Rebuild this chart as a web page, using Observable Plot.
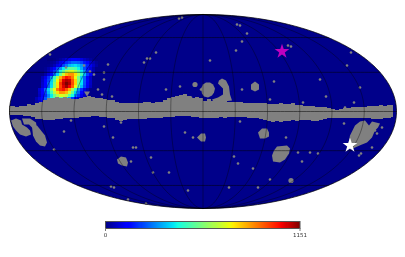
<!DOCTYPE html>
<html>
<head>
<meta charset="utf-8">
<style>
html,body{margin:0;padding:0;background:#fff}
svg{display:block;filter:blur(0.2px)}
</style>
<script src="https://cdn.jsdelivr.net/npm/d3@7"></script>
<script src="https://cdn.jsdelivr.net/npm/@observablehq/plot@0.6"></script>
</head>
<body>
<div id="chart"></div>
<script>
// Map plane units: east-west and north-south offsets from the map centre.
const countMax = 1151;
const colourStops = [0, 0.11, 0.125, 0.35, 0.375, 0.64, 0.66, 0.89, 0.91, 1];
const colourRamp = ["#00007f", "#0000ff", "#0000ff", "#00e6f7", "#14ffe2", "#eeff08", "#ffec00", "#ff1300", "#f60000", "#7f0000"];
const noData = "#808080";
const ocean = "#00008a";

const gridLons = [-150, -120, -90, -60, -30, 0, 30, 60, 90, 120, 150];
const gridLats = [-60, -30, 0, 30, 60];

// Galactic-plane mask: upper and lower edges, sampled left to right
const bandTop = [
  5,5,4,5,5,7,6,8,9,11,
  13,13,14,13,14,13,12,12,13,14,
  15,14,13,13,12,11,11,9,8,8,
  8,8,8,8,9,9,8,9,9,11,
  13,14,15,16,17,15,13,14,13,10,
  12,10,10,11,11,9,9,9,9,8,
  8,8,8,8,8,7,7,7,8,7,
  7,8,6,6,5,5,5,4,4,4,
  3,2,1,2,3,3,4,4,4,4,
  5,5,5,6,5,6,6];
const bandBottom = [
  -4,-4,-4,-4,-5,-5,-6,-8,-8,-9,
  -9,-9,-8,-8,-7,-7,-7,-7,-6,-6,
  -6,-5,-5,-6,-6,-7,-7,-9,-10,-9,
  -8,-8,-8,-8,-8,-7,-7,-7,-7,-6,
  -6,-6,-5,-5,-5,-5,-6,-6,-7,-7,
  -7,-7,-7,-6,-7,-6,-6,-6,-6,-6,
  -7,-7,-7,-8,-9,-10,-11,-10,-11,-10,
  -10,-9,-10,-9,-9,-9,-10,-10,-9,-8,
  -7,-7,-7,-7,-7,-7,-7,-7,-7,-7,
  -7,-8,-8,-8,-7,-7,-6];

// Larger masked regions as outlines
const maskBlobs = [
  [[15,28],[16,31],[19,33],[23,31],[26,25],[27,17],[29,11],[11,9],[9,12],[15,14],[20,17],[20,23],[17,26]],
  [[-2,23],[0,27],[3,29],[7,29],[10,27],[12,23],[11,19],[9,16],[5,14],[1,15],[-1,18]],
  [[52,30],[56,27],[56,22],[52,20],[48,22],[48,27]],
  [[-119,20],[-113,20],[-116,15]],
  [[-192,-9],[-187,-7],[-182,-9],[-181,-13],[-176,-16],[-173,-19],[-172,-23],[-177,-25],[-183,-23],[-187,-19],[-190,-15]],
  [[-181,-7],[-173,-7],[-167,-11],[-166,-17],[-170,-17],[-174,-13],[-179,-13]],
  [[-171,-15],[-166,-14],[-162,-19],[-158,-24],[-156,-31],[-158,-35],[-163,-34],[-167,-30],[-170,-24]],
  [[145,-34],[147,-24],[152,-14],[157,-10],[162,-9],[166,-14],[169,-10],[177,-12],[175,-16],[172,-19],[169,-26],[164,-31],[159,-33],[152,-36],[147,-38]],
  [[55,-21],[59,-17],[64,-17],[66,-21],[66,-25],[62,-27],[57,-27]],
  [[74,-35],[84,-34],[87,-37],[86,-42],[82,-48],[77,-51],[70,-50],[69,-44],[71,-39]],
  [[-86,-48],[-82,-45],[-77,-46],[-75,-51],[-76,-55],[-81,-54],[-85,-52]],
  [[-6,-26],[-2,-22],[2,-22],[3,-26],[2,-30],[-2,-30]]
];

// Small masked specks
const speckX = [-153,-119,-137,-113,-109,-95,-99,-99,-105,-101,-91,-47,-56,-53,-59,-37,-23,-2,-24,-21,-12,
  34,37,44,39,33,7,85,88,148,144,117,71,157,39,123,67,151,100,142,
  -99,-132,-139,-90,-82,-18,-10,-70,-67,-149,-52,-72,-50,-34,-92,-89,-15,-75,-57,
  83,95,107,115,31,35,50,99,67,26,55,158,169,141,37,172,174,179,156];
const speckY = [57,46,44,40,37,47,39,32,22,17,15,59,53,53,49,22,25,22,93,94,14,
  87,86,78,70,61,51,66,65,59,46,32,30,24,22,15,12,9,9,4,
  -15,-9,-20,-26,-11,-21,-26,-36,-36,-38,-46,-50,-61,-61,-75,-76,-79,-88,-92,
  -26,-41,-41,-42,-45,-52,-57,-50,-68,-76,-76,-42,-36,-12,-10,-19,-22,-16,-44];
const bigSpeckX = [-8, 88];
const bigSpeckY = [27, -69];

// Source counts around the hot spot, north to south, west to east
const hotX = [-160,-157,-154,-151,-148,-145,-142,-139,-136,-133,-130,-127,-124,-121,-118,-115,-112];
const hotY = [52,49,46,43,40,37,34,31,28,25,22,19,16,13,10];
const hotLean = [6,6,6,3,3,3,0,0,0,0,-3,-3,-3,-6,-6];
const hotCounts = [
  [0,0,5,15,30,50,80,110,130,130,120,100,70,50,30,15,5],
  [9,20,30,60,100,135,190,225,260,260,250,220,170,130,80,50,25],
  [15,30,55,100,145,220,280,350,375,395,360,315,240,180,115,70,35],
  [20,45,85,140,225,305,410,480,540,530,505,420,335,230,160,90,45],
  [30,65,115,200,295,430,540,655,700,710,640,550,410,300,185,115,55],
  [40,90,150,260,380,550,685,820,865,870,775,655,490,350,215,135,65],
  [55,105,195,305,480,640,830,945,1030,985,900,725,565,380,250,135,70],
  [65,130,215,370,530,745,910,1070,1110,1090,950,790,575,405,245,150,70],
  [75,135,250,385,590,770,980,1095,1151,1110,960,790,570,400,240,140,70],
  [80,140,255,395,590,775,965,1070,1125,1050,930,725,545,355,225,120,60],
  [80,140,250,380,560,730,900,985,1025,945,830,640,475,305,195,100,50],
  [70,135,220,355,490,655,775,870,865,820,685,545,380,260,150,85,40],
  [60,120,190,300,410,550,640,710,700,655,540,430,295,200,110,65,30],
  [50,95,150,240,325,430,495,545,530,490,400,315,215,145,80,45,20],
  [40,70,120,175,245,310,365,390,380,345,285,215,150,95,55,30,15]
];

const starMagenta = {x: 79, y: 60};
const starWhite = {x: 147, y: -34};

const halfW = 193.5, halfH = 97;

// Mollweide plane position of a longitude and latitude
function moll(lon, lat) {
  const phi = lat * Math.PI / 180;
  let th = phi;
  if (Math.abs(lat) < 90) {
    for (let i = 0; i < 30; i++) {
      th -= (2 * th + Math.sin(2 * th) - Math.PI * Math.sin(phi)) / (2 + 2 * Math.cos(2 * th));
    }
  } else th = Math.sign(lat) * Math.PI / 2;
  return {x: halfW * (lon / 180) * Math.cos(th), y: halfH * Math.sin(th)};
}

const colourScale = {
  type: "linear",
  domain: colourStops.map((s) => s * countMax),
  range: colourRamp,
  clamp: true
};

const outline = d3.range(-90, 90.5, 1).map((lat) => moll(180, lat))
  .concat(d3.range(90, -90.5, -1).map((lat) => moll(-180, lat)));

const meridians = gridLons.flatMap((lon) =>
  d3.range(-90, 90.5, 2).map((lat) => ({...moll(lon, lat), id: "m" + lon})));
const parallels = gridLats.flatMap((lat) =>
  d3.range(-180, 180.5, 4).map((lon) => ({...moll(lon, lat), id: "p" + lat})));

const bandRows = bandTop.map((t, i) => ({x: -194 + 4 * i, top: t, bottom: bandBottom[i]}));
const blobRows = maskBlobs.flatMap((pts, id) => pts.map(([x, y]) => ({x, y, id})));
const specks = speckX.map((x, i) => ({x, y: speckY[i]}));
const bigSpecks = bigSpeckX.map((x, i) => ({x, y: bigSpeckY[i]}));
const hotCells = hotY.flatMap((y, r) => hotX.map((x, c) => ({x: x + hotLean[r], y, v: hotCounts[r][c]})));

const map = Plot.plot({
  width: 405,
  height: 215,
  marginLeft: 9,
  marginRight: 9,
  marginTop: 14,
  marginBottom: 7,
  x: {domain: [-193.5, 193.5], axis: null},
  y: {domain: [-97, 97], axis: null},
  color: colourScale,
  style: {background: "transparent"},
  marks: [
    Plot.line(outline, {x: "x", y: "y", fill: ocean, stroke: "none", curve: "linear"}),
    Plot.rect(hotCells, {
      x1: (d) => d.x - 1.5, x2: (d) => d.x + 1.5,
      y1: (d) => d.y - 1.5, y2: (d) => d.y + 1.5,
      fill: "v", shapeRendering: "crispEdges"
    }),
    Plot.areaY(bandRows, {x: "x", y1: "bottom", y2: "top", fill: noData, curve: "step", shapeRendering: "crispEdges"}),
    Plot.line(blobRows, {x: "x", y: "y", z: "id", fill: noData, stroke: "none", curve: "linear"}),
    Plot.dot(specks, {x: "x", y: "y", r: 1.3, fill: noData}),
    Plot.dot(bigSpecks, {x: "x", y: "y", r: 2.6, fill: noData}),
    Plot.line(meridians, {x: "x", y: "y", z: "id", stroke: "#000", strokeOpacity: 0.6, strokeWidth: 0.6}),
    Plot.line(parallels, {x: "x", y: "y", z: "id", stroke: "#000", strokeOpacity: 0.7, strokeWidth: 0.7}),
    Plot.line(outline, {x: "x", y: "y", stroke: "#000", strokeOpacity: 0.9, strokeWidth: 0.8}),
    Plot.dot([starMagenta], {x: "x", y: "y", symbol: "star", r: 4.6, fill: "#bf00bf"}),
    Plot.dot([starWhite], {x: "x", y: "y", symbol: "star", r: 4.6, fill: "#fff"})
  ]
});

const barSteps = d3.range(0, countMax, 6);
const bar = Plot.plot({
  width: 405,
  height: 42,
  marginLeft: 105,
  marginRight: 105.5,
  marginTop: 6,
  marginBottom: 29,
  x: {domain: [0, countMax]},
  y: {domain: [0, 1], axis: null},
  color: colourScale,
  style: {background: "transparent", fontFamily: "DejaVu Sans"},
  marks: [
    Plot.rect(barSteps, {x1: (d) => d, x2: (d) => Math.min(d + 6, countMax), y1: 0, y2: 1, fill: (d) => d + 3, shapeRendering: "crispEdges"}),
    Plot.frame({stroke: "#555", strokeWidth: 1}),
    Plot.axisX([0, countMax], {tickSize: 3, tickPadding: 1.5, fontSize: 5.5, stroke: "#777", fill: "#333", tickFormat: (d) => String(d)})
  ]
});

const root = document.getElementById("chart");
root.append(map, bar);
</script>
</body>
</html>
